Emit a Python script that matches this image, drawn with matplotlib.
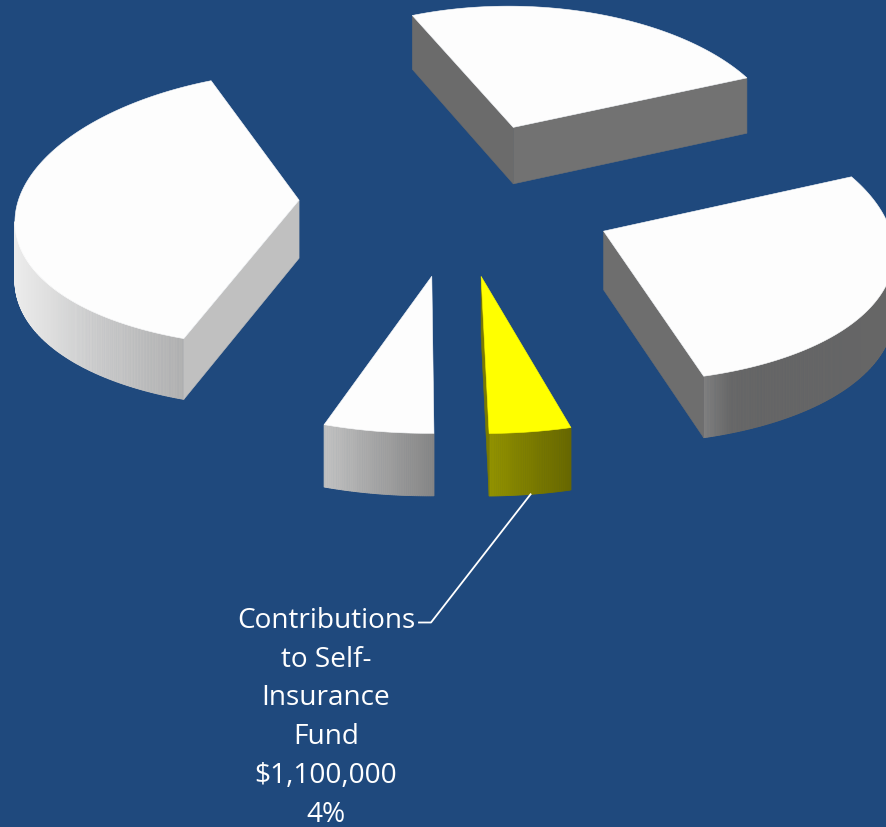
import numpy as np
import matplotlib
matplotlib.use("Agg")
import matplotlib.pyplot as plt
from matplotlib.colors import LinearSegmentedColormap
from matplotlib.patches import Polygon

# slice shares in percent, in drawing order going round from the yellow one
slice_shares = [4.0, 27.2, 25.0, 38.4, 5.4]
top_colors = ["#ffff00", "#fdfdfd", "#fdfdfd", "#fdfdfd", "#fdfdfd"]
wall_ramps = [
    ["#939300", "#7c7c00", "#686800"],
    ["#808080", "#686868", "#666666", "#666666", "#666666", "#666666", "#666666", "#666666"],
    ["#707070", "#707070", "#707070"],
    ["#ececec", "#cccccc", "#b2b2b2"],
    ["#c2c2c2", "#a4a4a4", "#868686"],
]
cut_colors = [
    ["#7a7a00", "#7a7a00"],
    ["#6e6e6e", "#6e6e6e"],
    ["#727272", "#6b6b6b"],
    ["#c0c0c0", "#c0c0c0"],
    ["#a0a0a0", "#a0a0a0"],
]
label_lines = ["Contributions", "to Self-", "Insurance", "Fund", "$1,100,000", "4%"]

background = "#1f497d"
start_angle = 0.9
explode = 0.565

# camera: radius 1 pie on the floor, tilted with a bit of perspective
cx, cy = 457.5, 197.0
scale_x, scale_y = 280.0, 137.0
persp_x, persp_y = 0.10, 0.062
height = 58.0


def project(x, y, drop=False):
    sx = cx + scale_x * x / (1 - persp_x * y)
    sy = cy + scale_y * y / (1 - persp_y * y)
    if drop:
        sy = sy + height * (1 + 0.05 * y)
    return sx, sy


fig = plt.figure(figsize=(8.86, 8.27), dpi=100, facecolor=background)
ax = fig.add_axes([0, 0, 1, 1])
ax.set_xlim(0, 886)
ax.set_ylim(827, 0)
ax.axis("off")

edges = start_angle + np.cumsum([0] + slice_shares) * 3.6
leader_anchor = None

for i, share in enumerate(slice_shares):
    a0, a1 = np.radians(edges[i]), np.radians(edges[i + 1])
    mid = (a0 + a1) / 2
    ox, oy = explode * np.sin(mid), explode * np.cos(mid)

    t = np.linspace(a0, a1, int(share * 3.6) * 3 + 2)
    xs = np.concatenate([[ox], ox + np.sin(t)])
    ys = np.concatenate([[oy], oy + np.cos(t)])
    px, py = project(xs, ys)
    qx, qy = project(xs, ys, drop=True)

    area = np.sum(px * np.roll(py, -1) - np.roll(px, -1) * py)
    n = len(px)
    visible = [j for j in range(n) if area * (px[(j + 1) % n] - px[j]) < 0]

    # arc part of the wall, shaded left to right
    arc = [j for j in visible if 1 <= j < n - 1]
    ramp = LinearSegmentedColormap.from_list("wall", wall_ramps[i], N=512)
    if arc:
        x_lo = min(min(px[j], px[j + 1]) for j in arc)
        x_hi = max(max(px[j], px[j + 1]) for j in arc)
    for j in arc:
        c = ramp(((px[j] + px[j + 1]) / 2 - x_lo) / (x_hi - x_lo))
        quad = [(px[j], py[j]), (px[j + 1], py[j + 1]), (qx[j + 1], qy[j + 1]), (qx[j], qy[j])]
        ax.add_patch(Polygon(quad, facecolor=c, edgecolor=c, lw=0.6, zorder=i * 3 + 1))

    # the two straight cut faces
    for j, k, c in [(0, 1, cut_colors[i][0]), (n - 1, 0, cut_colors[i][1])]:
        if j in visible:
            quad = [(px[j], py[j]), (px[k], py[k]), (qx[k], qy[k]), (qx[j], qy[j])]
            ax.add_patch(Polygon(quad, facecolor=c, edgecolor=c, lw=0.4, zorder=i * 3 + 1))

    ax.add_patch(Polygon(np.column_stack([px, py]), facecolor=top_colors[i],
                         edgecolor=top_colors[i], lw=0.4, zorder=i * 3 + 2))

    if i == 0:
        # leader starts under the front wall of the labelled slice
        leader_anchor = project(ox + np.sin(mid), oy + np.cos(mid), drop=True)

ax.plot([419, 431, leader_anchor[0]], [622.5, 622.5, leader_anchor[1]], color="white", lw=1.3, zorder=30)

for i, line in enumerate(label_lines):
    ax.text(326, 628 + 38.7 * i, line, color="white", fontsize=20.2, family="Open Sans",
            ha="center", va="baseline", zorder=31)

fig.savefig("out.png", dpi=100, facecolor=background)
